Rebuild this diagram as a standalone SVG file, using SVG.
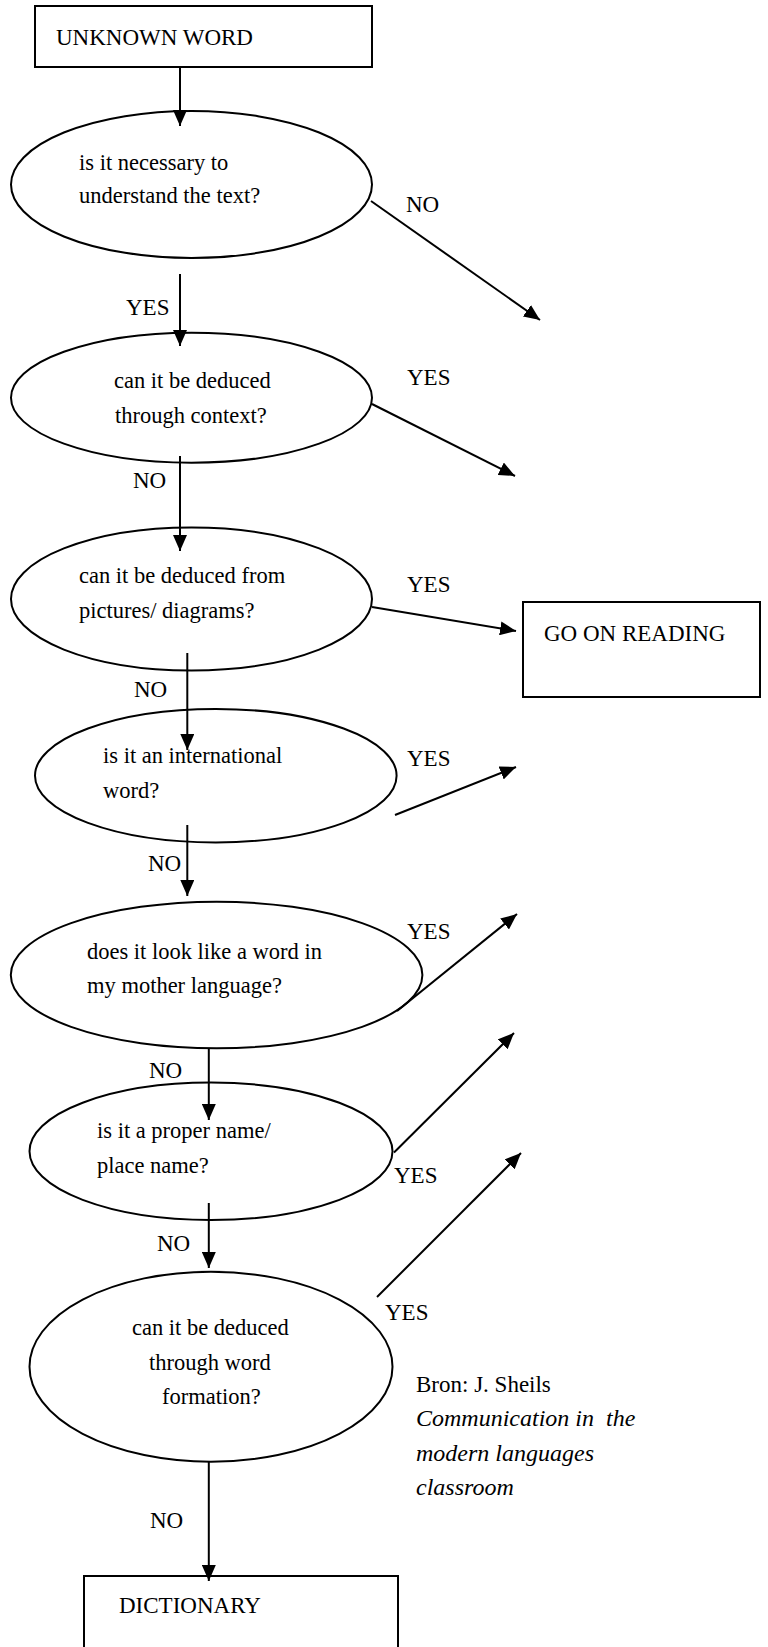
<svg xmlns="http://www.w3.org/2000/svg" width="768" height="1647" viewBox="0 0 768 1647">
<defs>
<marker id="arr" markerUnits="userSpaceOnUse" markerWidth="16" markerHeight="14" refX="16" refY="7" orient="auto">
<path d="M0,0 L16,7 L0,14 z" fill="#000"/>
</marker>
<style>
.shape{fill:#fff;stroke:#000;stroke-width:2}
.t{font-family:"Liberation Serif","Times New Roman",serif;font-size:22.5px;fill:#000}
.lbl{font-family:"Liberation Serif","Times New Roman",serif;font-size:23px;fill:#000}
.it{font-family:"Liberation Serif","Times New Roman",serif;font-size:24px;font-style:italic;fill:#000}
.c{fill:none;stroke:#000;stroke-width:2;marker-end:url(#arr)}
</style>
</defs>
<rect width="768" height="1647" fill="#fff"/>

<g id="n_unknown">
<rect class="shape" x="35" y="6" width="337" height="61"/>
<text class="lbl" x="56" y="45">UNKNOWN WORD</text>
</g>

<g id="n_q1">
<ellipse class="shape" cx="191.5" cy="184.5" rx="180.5" ry="73.5"/>
<text class="t" x="79" y="170">is it necessary to</text>
<text class="t" x="79" y="203">understand the text?</text>
</g>

<g id="n_q2">
<ellipse class="shape" cx="191.5" cy="397.7" rx="180.5" ry="65"/>
<text class="t" x="114" y="388">can it be deduced</text>
<text class="t" x="115" y="423">through context?</text>
</g>

<g id="n_q3">
<ellipse class="shape" cx="191.5" cy="599" rx="180.5" ry="71.5"/>
<text class="t" x="79" y="583">can it be deduced from</text>
<text class="t" x="79" y="618">pictures/ diagrams?</text>
</g>

<g id="n_goon">
<rect class="shape" x="523" y="602" width="237" height="95"/>
<text class="lbl" x="544" y="641">GO ON READING</text>
</g>

<g id="n_q4">
<ellipse class="shape" cx="215.8" cy="775.7" rx="180.8" ry="66.7"/>
<text class="t" x="103" y="763">is it an international</text>
<text class="t" x="103" y="798">word?</text>
</g>

<g id="n_q5">
<ellipse class="shape" cx="216.6" cy="975" rx="205.8" ry="73.3"/>
<text class="t" x="87" y="959">does it look like a word in</text>
<text class="t" x="87" y="993">my mother language?</text>
</g>

<g id="n_q6">
<ellipse class="shape" cx="211" cy="1151.3" rx="181.5" ry="68.7"/>
<text class="t" x="97" y="1138">is it a proper name/</text>
<text class="t" x="97" y="1173">place name?</text>
</g>

<g id="n_q7">
<ellipse class="shape" cx="211" cy="1366.7" rx="181.5" ry="95"/>
<text class="t" x="132" y="1335">can it be deduced</text>
<text class="t" x="149" y="1370">through word</text>
<text class="t" x="162" y="1404">formation?</text>
</g>

<g id="n_dict">
<rect class="shape" x="84" y="1576" width="314" height="90"/>
<text class="lbl" x="119" y="1613">DICTIONARY</text>
</g>

<g id="source">
<text class="lbl" x="416" y="1392">Bron: J. Sheils</text>
<text class="it" x="416" y="1426" xml:space="preserve">Communication in  the</text>
<text class="it" x="416" y="1461">modern languages</text>
<text class="it" x="416" y="1495">classroom</text>
</g>

<g id="connectors">
<line class="c" x1="180" y1="67" x2="180" y2="126"/>
<line class="c" x1="371" y1="201" x2="540" y2="320"/>
<line class="c" x1="180" y1="274" x2="180" y2="346"/>
<line class="c" x1="372" y1="404" x2="515" y2="476"/>
<line class="c" x1="180" y1="456" x2="180" y2="551"/>
<line class="c" x1="372" y1="607" x2="516" y2="631"/>
<line class="c" x1="187.3" y1="653" x2="187.3" y2="750"/>
<line class="c" x1="395" y1="815" x2="516" y2="767"/>
<line class="c" x1="187.3" y1="825" x2="187.3" y2="896"/>
<line class="c" x1="397" y1="1011" x2="517" y2="914"/>
<line class="c" x1="208.8" y1="1048" x2="208.8" y2="1120"/>
<line class="c" x1="394" y1="1152.5" x2="514" y2="1033"/>
<line class="c" x1="208.8" y1="1203" x2="208.8" y2="1268"/>
<line class="c" x1="377" y1="1297" x2="521" y2="1153"/>
<line class="c" x1="208.8" y1="1462" x2="208.8" y2="1581"/>
</g>

<g id="labels">
<text class="lbl" x="406" y="212">NO</text>
<text class="lbl" x="126" y="315">YES</text>
<text class="lbl" x="407" y="385">YES</text>
<text class="lbl" x="133" y="488">NO</text>
<text class="lbl" x="407" y="592">YES</text>
<text class="lbl" x="134" y="697">NO</text>
<text class="lbl" x="407" y="766">YES</text>
<text class="lbl" x="148" y="871">NO</text>
<text class="lbl" x="407" y="939">YES</text>
<text class="lbl" x="149" y="1078">NO</text>
<text class="lbl" x="394" y="1183">YES</text>
<text class="lbl" x="157" y="1251">NO</text>
<text class="lbl" x="385" y="1320">YES</text>
<text class="lbl" x="150" y="1528">NO</text>
</g>
</svg>
